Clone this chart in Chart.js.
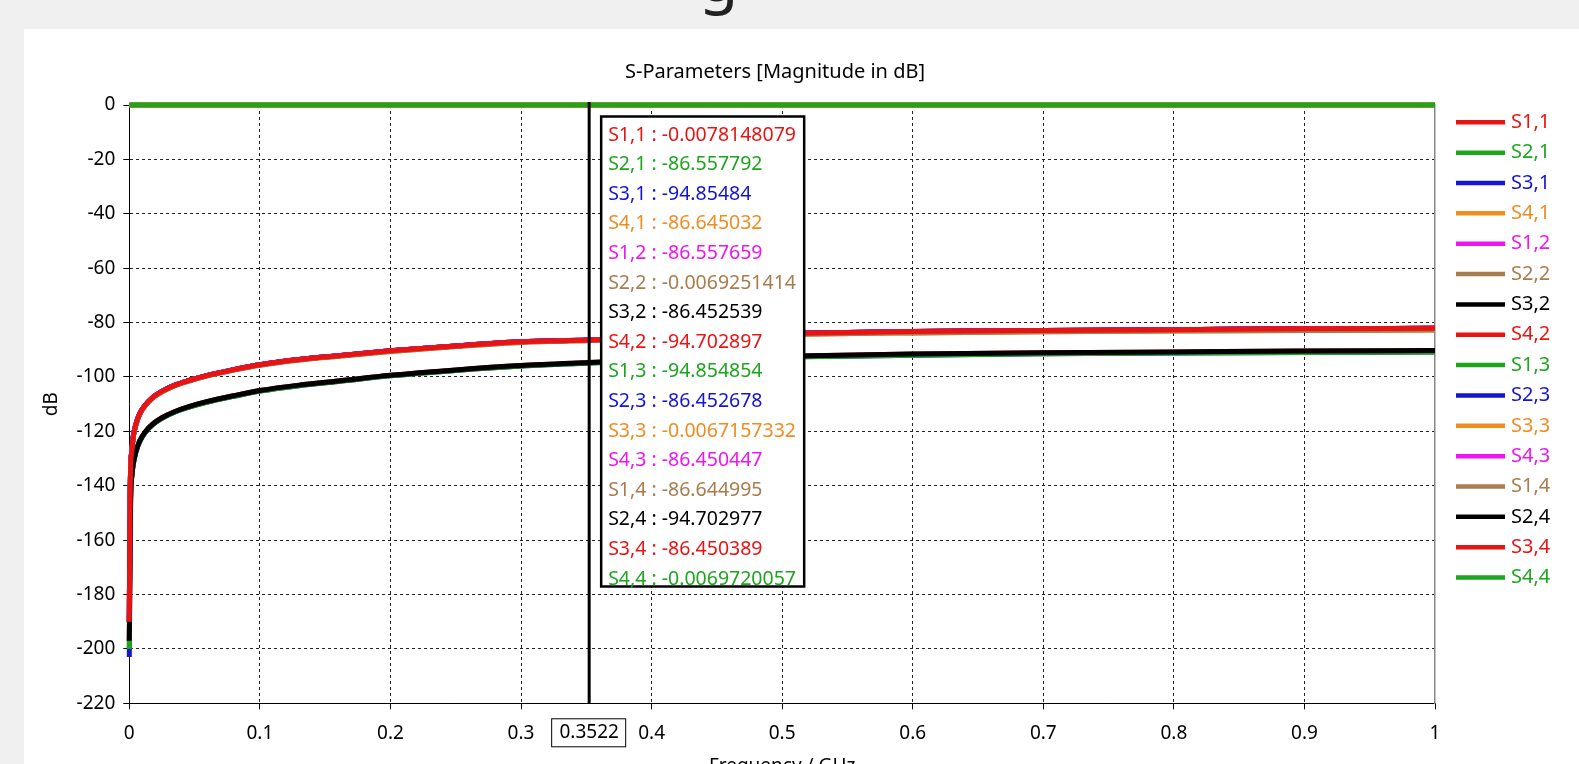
<!DOCTYPE html>
<html lang="en">
<head>
    <meta charset="UTF-8">
    <title>S-Parameters [Magnitude in dB]</title>
    <script src="https://cdn.jsdelivr.net/npm/chart.js"></script>
    <style>
        html, body { margin: 0; padding: 0; overflow: hidden; background: #f0f0f0; }
        #heading { position: absolute; left: 699px; top: -55px; font: 64px/64px "Noto Sans"; color: #222; }
        #panel { position: absolute; left: 24px; top: 29px; width: 1555px; height: 770px; background: #fff; }
    </style>
</head>
<body>
    <div id="heading">g</div>
    <div id="panel">
        <canvas id="myChart" width="1555" height="770"></canvas>
    </div>
    <script>
        // frequency samples (GHz)
        const freqGHz = [0, 0.0005, 0.001, 0.002, 0.003, 0.005, 0.008, 0.012, 0.018, 0.025, 0.035, 0.045, 0.06, 0.08, 0.1,
                         0.13, 0.16, 0.2, 0.25, 0.3, 0.3522, 0.4, 0.45, 0.5, 0.6, 0.7, 0.8, 0.9, 1.0];

        // reflection (Sii) ~ 0 dB
        const reflDb = [0, -0.0001, -0.0001, -0.0001, -0.0001, -0.0002, -0.0003, -0.0004, -0.0006, -0.0008, -0.0011, -0.0014, -0.0018, -0.0025, -0.003,
                        -0.0038, -0.0045, -0.0052, -0.006, -0.0068, -0.0072, -0.0078, -0.0085, -0.009, -0.01, -0.011, -0.012, -0.013, -0.014];
        // coupling around -86.45 dB at the marker (upper red curve)
        const nearDb = [-190, -150, -134, -127, -122, -117.5, -113.5, -110.5, -107.5, -105.3, -103, -101.4, -99.4, -97.3, -95.5,
                        -93.6, -92.2, -90.4, -88.6, -87.1, -86.45, -85.5, -84.6, -84.0, -83.3, -82.9, -82.6, -82.3, -82.1];
        // coupling around -86.64 dB (just under the red curve)
        const near2Db = [-190, -150, -134.2, -127.2, -122.2, -117.7, -113.7, -110.7, -107.7, -105.5, -103.2, -101.6, -99.6, -97.5, -95.7,
                         -93.8, -92.4, -90.6, -88.8, -87.3, -86.64, -85.8, -85.0, -84.4, -83.8, -83.4, -83.1, -82.9, -82.7];
        // coupling around -94.70 dB (black curve)
        const farDb = [-197, -165, -145, -136, -132, -127.5, -123.5, -120.3, -117.3, -115, -112.7, -111, -109, -106.9, -105.0,
                       -103, -101.5, -99.4, -97.4, -95.8, -94.70, -93.8, -93.0, -92.4, -91.6, -91.1, -90.8, -90.5, -90.3];
        // coupling around -94.85 dB (just under the black curve)
        const far2Db = [-200, -165, -145.2, -136.2, -132.2, -127.7, -123.7, -120.5, -117.5, -115.2, -112.9, -111.2, -109.2, -107.1, -105.2,
                        -103.2, -101.7, -99.6, -97.6, -96.0, -94.85, -94.0, -93.3, -92.7, -92.0, -91.5, -91.2, -91.0, -90.8];

        const seriesNames = ['S1,1', 'S2,1', 'S3,1', 'S4,1', 'S1,2', 'S2,2', 'S3,2', 'S4,2',
                             'S1,3', 'S2,3', 'S3,3', 'S4,3', 'S1,4', 'S2,4', 'S3,4', 'S4,4'];
        const seriesCurves = [reflDb, nearDb, far2Db, near2Db, nearDb, reflDb, nearDb, farDb,
                              far2Db, nearDb, reflDb, nearDb, near2Db, farDb, nearDb, reflDb];
        // value at 0 GHz for each series
        const dcDb = [0, -190, -203, -190, -190, 0, -190, -197, -200, -190, 0, -190, -190, -197, -190, 0];

        const palette = ['#e81414', '#1ea51e', '#1414d2', '#f08c20', '#f014f0', '#a87c4c', '#000000'];

        // marker readout at 0.3522 GHz
        const markerFreq = 0.3522;
        const markerValues = ['-0.0078148079', '-86.557792', '-94.85484', '-86.645032', '-86.557659', '-0.0069251414',
                              '-86.452539', '-94.702897', '-94.854854', '-86.452678', '-0.0067157332', '-86.450447',
                              '-86.644995', '-94.702977', '-86.450389', '-0.0069720057'];

        const xTickLabels = ['0', '0.1', '0.2', '0.3', '0.4', '0.5', '0.6', '0.7', '0.8', '0.9', '1'];

        const FONT = '"Noto Sans"';
        Chart.defaults.font.family = FONT;
        Chart.defaults.font.size = 19;
        Chart.defaults.color = '#000';

        const datasets = seriesNames.map((name, i) => ({
            label: name,
            data: freqGHz.map((f, k) => ({ x: f, y: k === 0 ? dcDb[i] : seriesCurves[i][k] })),
            borderColor: palette[i % palette.length],
            backgroundColor: palette[i % palette.length],
            borderWidth: 5,
            pointRadius: 0,
            cubicInterpolationMode: 'monotone',
            fill: false,
            clip: false,
            order: seriesNames.length - i
        }));

        const markerPlugin = {
            id: 'marker',
            afterDatasetsDraw(chart) {
                const { ctx, chartArea } = chart;
                const px = chart.scales.x.getPixelForValue(markerFreq);
                ctx.save();
                // cursor line
                ctx.strokeStyle = '#000';
                ctx.lineWidth = 3;
                ctx.beginPath();
                ctx.moveTo(px, chartArea.top - 3);
                ctx.lineTo(px, chartArea.bottom);
                ctx.stroke();

                // readout box
                const bx = px + 12, by = chartArea.top + 11.5, bw = 203, bh = 470;
                ctx.fillStyle = '#fff';
                ctx.fillRect(bx, by, bw, bh);
                ctx.lineWidth = 2.5;
                ctx.strokeRect(bx, by, bw, bh);
                ctx.font = '19.5px ' + FONT;
                ctx.textBaseline = 'middle';
                ctx.textAlign = 'left';
                seriesNames.forEach((name, i) => {
                    ctx.fillStyle = palette[i % palette.length];
                    ctx.fillText(name + ' : ' + markerValues[i], bx + 7, by + 18.5 + i * 29.6);
                });

                // frequency label on the x axis
                ctx.fillStyle = '#fff';
                ctx.fillRect(px - 37, chartArea.bottom + 15, 74, 28);
                ctx.lineWidth = 1;
                ctx.strokeStyle = '#000';
                ctx.strokeRect(px - 37.5, chartArea.bottom + 15.5, 74, 28);
                ctx.fillStyle = '#000';
                ctx.textAlign = 'center';
                ctx.font = '19px ' + FONT;
                ctx.fillText(String(markerFreq), px, chartArea.bottom + 29.5);
                ctx.restore();
            },
            afterDraw(chart) {
                // legend at the right
                const { ctx, chartArea } = chart;
                ctx.save();
                ctx.font = '20px ' + FONT;
                ctx.textBaseline = 'middle';
                ctx.textAlign = 'left';
                chart.data.datasets.forEach((ds, i) => {
                    const y = chartArea.top + 17.3 + i * 30.35;
                    ctx.strokeStyle = ds.borderColor;
                    ctx.lineWidth = 4.5;
                    ctx.beginPath();
                    ctx.moveTo(chartArea.right + 21, y);
                    ctx.lineTo(chartArea.right + 70, y);
                    ctx.stroke();
                    ctx.fillStyle = ds.borderColor;
                    ctx.fillText(ds.label, chartArea.right + 76, y);
                });
                ctx.restore();
            }
        };

        const ctx = document.getElementById('myChart').getContext('2d');
        const myChart = new Chart(ctx, {
            type: 'line',
            data: { datasets: datasets },
            options: {
                responsive: false,
                animation: false,
                devicePixelRatio: 1,
                layout: { padding: { left: 0, right: 53, top: 0, bottom: 0 } },
                plugins: {
                    legend: { display: false },
                    tooltip: { enabled: false },
                    title: {
                        display: true,
                        text: 'S-Parameters [Magnitude in dB]',
                        color: '#000',
                        font: { size: 20, weight: 'normal' },
                        padding: { top: 31.5, bottom: 20.5 }
                    }
                },
                scales: {
                    x: {
                        type: 'linear',
                        min: 0,
                        max: 1,
                        ticks: {
                            stepSize: 0.1,
                            padding: 13,
                            maxRotation: 0,
                            callback: (v, i) => xTickLabels[i]
                        },
                        grid: {
                            color: c => (c.tick && c.tick.value >= 1) ? 'rgba(0,0,0,0)' : '#222',
                            lineWidth: 1,
                            tickLength: 6,
                            tickColor: '#000'
                        },
                        border: { color: '#000', width: 1, dash: [3, 3] },
                        title: { display: true, text: 'Frequency / GHz', padding: { top: 0, bottom: 21 } },
                        afterFit: s => { s.height = 95.7; }
                    },
                    y: {
                        min: -220,
                        max: 0,
                        ticks: { stepSize: 20, padding: 8 },
                        grid: {
                            color: '#222',
                            lineWidth: 1,
                            tickLength: 6,
                            tickColor: '#000'
                        },
                        border: { color: '#000', width: 1, dash: [3, 3] },
                        title: { display: true, text: 'dB', padding: { top: 16.3, bottom: 0 } },
                        afterFit: s => { s.width = 105.3; }
                    },
                    // right frame line; its width leaves room for the legend
                    yRight: {
                        position: 'right',
                        min: -220,
                        max: 0,
                        ticks: { display: false },
                        grid: { drawOnChartArea: false, drawTicks: false },
                        border: { color: '#888', width: 1.5 },
                        afterFit: s => { s.width = 91; }
                    }
                }
            },
            plugins: [markerPlugin]
        });
    </script>
</body>
</html>
